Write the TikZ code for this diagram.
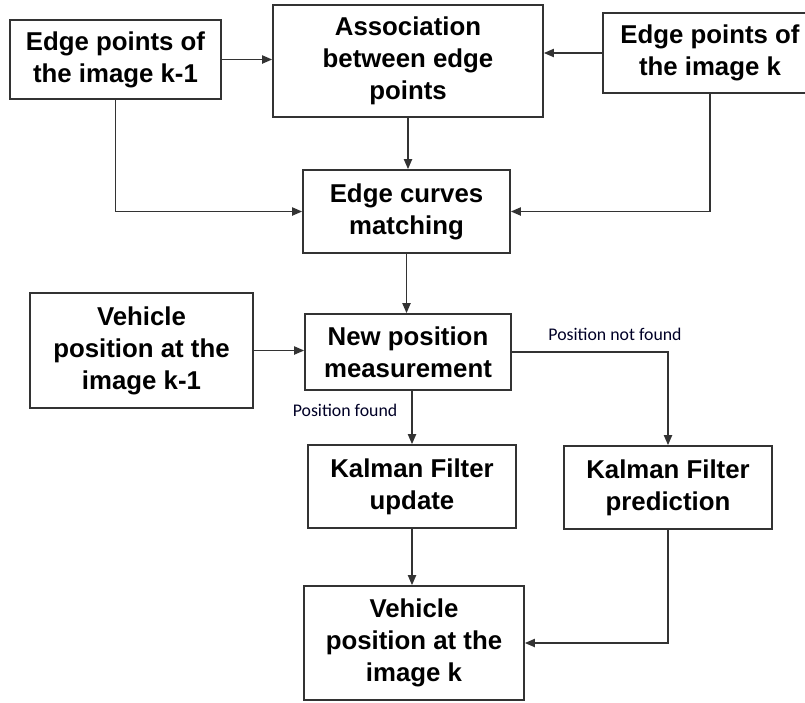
\documentclass[tikz,border=0pt]{standalone}
\usepackage{fontspec}
\setmainfont{Liberation Sans}
\newfontfamily\lblfont{Carlito}
\usetikzlibrary{arrows.meta}
\definecolor{linec}{HTML}{333333}
\begin{document}
\begin{tikzpicture}[x=1pt,y=-1pt,
  box/.style={draw=linec, line width=1.6pt, fill=white, align=center, inner sep=0pt,
    font=\fontsize{25.8}{32}\selectfont\bfseries},
  conn/.style={draw=linec, line width=1.8pt, -{Triangle[length=10pt,width=8pt]}},
  lbl/.style={font=\lblfont\fontsize{17.8}{20}\selectfont, text=black!85!blue, inner sep=0pt}]
\useasboundingbox (0,0) rectangle (805,702);
\node[box, minimum width=211pt, minimum height=79pt] (b1) at (115.5,59.5) {Edge points of\\the image k-1};
\node[box, minimum width=270pt, minimum height=112pt] (b2) at (408,61) {Association\\between edge\\points};
\node[box, minimum width=214pt, minimum height=80pt] (b3) at (710,53) {Edge points of\\the image k};
\node[box, minimum width=207pt, minimum height=83pt] (b4) at (406.5,211.5) {Edge curves\\matching};
\node[box, minimum width=223pt, minimum height=115pt] (b5) at (141.5,350.5) {Vehicle\\position at the\\image k-1};
\node[box, minimum width=206pt, minimum height=76pt] (b6) at (408,352) {New position\\measurement};
\node[box, minimum width=208pt, minimum height=83pt] (b7) at (412,486.5) {Kalman Filter\\update};
\node[box, minimum width=208pt, minimum height=83pt] (b8) at (668,487.5) {Kalman Filter\\prediction};
\node[box, minimum width=220pt, minimum height=114pt] (b9) at (414,643) {Vehicle\\position at the\\image k};
\node[lbl] (l1) at (345,410) {Position found};
\node[lbl] (l2) at (615,334) {Position not found};
\draw[conn] (b1.east) -- (b2.west |- b1.east);
\draw[conn] (b3.west) -- (b2.east |- b3.west);
\draw[conn] (b2.south) -- (b2.south |- b4.north);
\draw[conn] (b1.south) |- (b4.west);
\draw[conn] (b3.south) |- (b4.east);
\draw[conn] (b4.south) -- (b4.south |- b6.north);
\draw[conn] (b5.east) -- (b6.west |- b5.east);
\draw[conn] (b6.south -| b7.north) -- (b7.north);
\draw[conn] (b6.east) -| (b8.north);
\draw[conn] (b7.south) -- (b7.south |- b9.north);
\draw[conn] (b8.south) |- (b9.east);
\end{tikzpicture}
\end{document}
